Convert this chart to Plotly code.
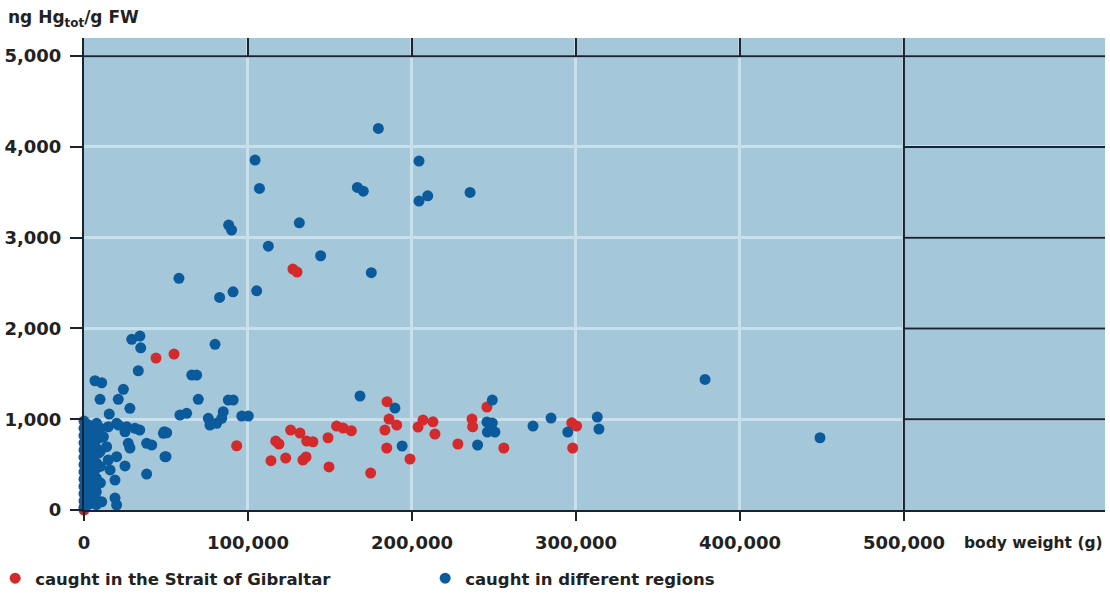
import plotly.graph_objects as go

# body weight (g) and total Hg (ng/g FW)
gib_weight = [0, 43900, 54900, 93100, 116900, 118900, 114000, 123000, 126000, 131700,
              135800, 139600, 133500, 135400, 148800, 149400, 154000, 158000, 163000,
              174800, 184800, 183500, 186000, 190700, 184600, 198800, 203700, 206700,
              212800, 214000, 228000, 236600, 237000, 245700, 256000, 297400, 300400,
              298000, 127400, 129900]
gib_hg = [0, 1674, 1718, 708, 760, 727, 543, 573, 881, 848,
          760, 752, 551, 584, 796, 474, 925, 903, 873,
          407, 1193, 881, 1002, 936, 683, 562, 914, 991,
          972, 837, 727, 1002, 917, 1134, 683, 961, 925,
          683, 2654, 2621]

other_weight = [
    # dense group of small fish
    0, 0, 0, 0, 0, 0, 0, 0, 0, 0, 0, 0, 0,
    2500, 2500, 2500, 2500, 2500, 2500, 2500, 2500, 2500, 2500, 2500, 2500,
    5000, 5000, 5000, 5000, 5000, 5000,
    7500, 7500, 7500, 7500, 7500, 7500,
    10000, 10000, 10000, 10000, 10000,
    6700, 7700, 6700, 10800, 14800, 15900, 19900, 13800, 11800, 14800, 7700, 19900,
    25000, 31100, 27000, 28000, 49000, 38200, 41300, 49400, 38200, 25000, 18900,
    18900, 19900, 26000, 21000, 34000, 9000, 4000, 3000, 8000,
    # mid group
    29100, 34100, 34600, 33100, 6700, 10800, 24000, 9800, 20900, 28000, 15400,
    69700, 79900, 65700, 68700, 58500, 62600, 75800, 76800, 80900, 84900, 88000,
    91000, 84000, 96200, 100200, 48400, 50400, 50000,
    # high values
    57900, 104300, 107000, 88200, 90000, 131300, 112400, 144300, 175200, 82700,
    90900, 105300, 179500, 204300, 166700, 170300, 204300, 209600, 235400,
    # large fish
    168300, 189600, 249000, 245700, 249000, 246000, 250600, 194000, 240000,
    273800, 284800, 295000, 313000, 314000, 378700, 448800]
other_hg = [
    30, 100, 180, 260, 340, 420, 500, 580, 660, 740, 820, 900, 980,
    60, 140, 220, 300, 380, 460, 540, 620, 700, 780, 860, 940,
    100, 250, 400, 550, 700, 850,
    60, 200, 350, 520, 680, 820,
    300, 480, 650, 800, 900,
    440, 275, 146, 91, 551, 441, 587, 697, 807, 917, 955, 955,
    862, 900, 735, 683, 862, 735, 716, 587, 396, 485, 330,
    132, 55, 917, 936, 880, 630, 600, 760, 780,
    1880, 1916, 1787, 1534, 1424, 1402, 1329, 1219, 1219, 1120, 1057,
    1219, 1825, 1487, 1487, 1046, 1065, 1010, 936, 955, 1083, 1211,
    1211, 1010, 1035, 1035, 845, 851, 587,
    2552, 3855, 3543, 3139, 3084, 3164, 2907, 2801, 2614, 2342,
    2404, 2415, 4204, 3844, 3554, 3513, 3403, 3461, 3499,
    1256, 1123, 1211, 969, 958, 859, 859, 705, 716,
    925, 1013, 859, 1024, 892, 1439, 796]

x_ticks = [0, 100000, 200000, 300000, 400000, 500000]
x_labels = ["0", "100,000", "200,000", "300,000", "400,000", "500,000"]
y_ticks = [0, 1000, 2000, 3000, 4000, 5000]
y_labels = ["0", "1,000", "2,000", "3,000", "4,000", "5,000"]

X_MAX = 622600
Y_MAX = 5200
BG = "#a4c8da"
GRID = "#c9dfec"
INK = "#1b2330"
FONT = "DejaVu Sans"

fig = go.Figure()
fig.add_trace(go.Scatter(
    x=gib_weight, y=gib_hg, mode="markers", name="caught in the Strait of Gibraltar",
    marker=dict(color="#d42a2c", size=11), cliponaxis=False))
fig.add_trace(go.Scatter(
    x=other_weight, y=other_hg, mode="markers", name="caught in different regions",
    marker=dict(color="#0b5a9c", size=11), cliponaxis=False))

# black frame lines: 5,000 line, 500,000 line, right-hand block and top tick stubs
shapes = [
    dict(type="line", x0=0, x1=X_MAX, y0=5000, y1=5000),
    dict(type="line", x0=500000, x1=500000, y0=0, y1=Y_MAX),
]
for v in y_ticks[1:-1]:
    shapes.append(dict(type="line", x0=500000, x1=X_MAX, y0=v, y1=v))
for v in x_ticks[1:-1]:
    shapes.append(dict(type="line", x0=v, x1=v, y0=5000, y1=Y_MAX))
for s in shapes:
    s.update(xref="x", yref="y", layer="between", line=dict(color=INK, width=2))

fig.update_layout(
    width=1110, height=594,
    margin=dict(l=84, r=5, t=38, b=84, autoexpand=False),
    paper_bgcolor="white", plot_bgcolor=BG,
    font=dict(family=FONT, color="#222222", size=17),
    shapes=shapes,
    showlegend=True,
    legend=dict(orientation="h", x=-0.087, y=-0.145, xanchor="left", yanchor="middle",
                font=dict(size=16.5, weight="bold"), entrywidth=385, entrywidthmode="pixels",
                itemwidth=30, bgcolor="rgba(0,0,0,0)"),
    annotations=[
        dict(text="ng Hg<sub>tot</sub>/g FW", xref="paper", yref="paper", x=-0.076, y=1.042,
             xanchor="left", yanchor="middle", showarrow=False,
             font=dict(size=17, weight="bold")),
        dict(text="body weight (g)", xref="paper", yref="paper", x=1.0, y=-0.07,
             xanchor="right", yanchor="middle", showarrow=False,
             font=dict(size=15.5, weight="bold")),
    ],
)
fig.update_xaxes(
    range=[0, X_MAX], tickvals=x_ticks, ticktext=x_labels,
    showgrid=True, gridcolor=GRID, gridwidth=3, zeroline=False,
    showline=True, linecolor=INK, linewidth=2,
    ticks="outside", ticklen=9, tickcolor=INK, tickwidth=2,
    ticklabelstandoff=6, tickfont=dict(size=18, weight="bold"))
fig.update_yaxes(
    range=[0, Y_MAX], tickvals=y_ticks, ticktext=y_labels,
    showgrid=True, gridcolor=GRID, gridwidth=3, zeroline=False,
    showline=True, linecolor=INK, linewidth=2,
    ticks="outside", ticklen=12, tickcolor=INK, tickwidth=2,
    ticklabelstandoff=5, tickfont=dict(size=18, weight="bold"))

# the page body has a default 8px margin; drop it so the figure sits at the window corner
fig.write_html("out.html", config={"displayModeBar": False},
               post_script="document.body.style.margin='0';")
